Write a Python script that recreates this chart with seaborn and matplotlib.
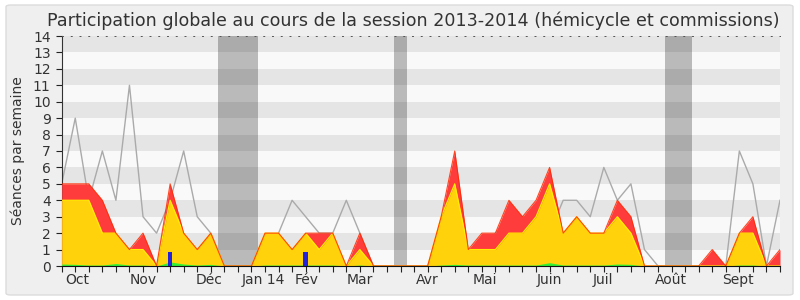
import numpy as np
import pandas as pd
import matplotlib
matplotlib.use("Agg")
import matplotlib.pyplot as plt
from matplotlib.patches import FancyBboxPatch
import seaborn as sns

# ---- data (weekly, session 2013-2014) ----
weeks = list(range(54))
presence_total = [5, 5, 5, 4, 2, 1, 2, 0, 5, 2, 1, 2, 0, 0, 0, 2, 2, 1, 2, 2, 2, 0, 2, 0, 0, 0, 0, 0,
                  3, 7, 1, 2, 2, 4, 3, 4, 6, 2, 3, 2, 2, 4, 3, 0, 0, 0, 0, 0, 1, 0, 2, 3, 0, 1]
hemicycle = [4, 4, 4, 2, 2, 1, 1, 0, 4, 2, 1, 2, 0, 0, 0, 2, 2, 1, 2, 1, 2, 0, 1, 0, 0, 0, 0, 0,
             3, 5, 1, 1, 1, 2, 2, 3, 5, 2, 3, 2, 2, 3, 2, 0, 0, 0, 0, 0, 0, 0, 2, 2, 0, 0]
interventions = [0.12, 0.1, 0.06, 0.06, 0.15, 0.06, 0.06, 0, 0.25, 0.12, 0.06, 0.1, 0, 0, 0,
                 0.06, 0.06, 0.06, 0.06, 0.06, 0.06, 0, 0.06, 0, 0, 0, 0, 0,
                 0.06, 0.1, 0.06, 0.06, 0.06, 0.06, 0.06, 0.06, 0.2, 0.06, 0.06, 0.06, 0.06, 0.12, 0.1,
                 0, 0, 0, 0, 0, 0, 0, 0.06, 0.06, 0, 0]
mediane = [5, 9, 4, 7, 4, 11, 3, 2, 4, 7, 3, 2, 0, 0, 0, 0, 2, 4, 3, 2, 2, 4, 2, 0, 0, 0, 0, 0,
           2, 3, 0, 1, 2, 3, 3, 3, 2, 4, 4, 3, 6, 4, 5, 1, 0, 0, 0, 0, 0, 0, 7, 5, 0, 4]
question_weeks = [8, 18]
question_values = [0.87, 0.87]
vacances = [(11.5, 14.5), (24.5, 25.5), (44.5, 46.5)]
month_labels = ["Oct", "Nov", "Déc", "Jan 14", "Fév", "Mar", "Avr", "Mai", "Juin", "Juil", "Août", "Sept"]
month_pos = [1.15, 6.0, 10.9, 14.86, 18.1, 22.0, 27.0, 31.2, 35.96, 39.95, 44.97, 49.9]
title = "Participation globale au cours de la session 2013-2014 (hémicycle et commissions)"
ylabel = "Séances par semaine"

df = pd.DataFrame({"semaine": weeks, "total": presence_total, "hemi": hemicycle,
                   "interv": interventions, "med": mediane})

plt.rcParams['font.family'] = ['DejaVu Sans']
fig = plt.figure(figsize=(8, 3), dpi=100)
fig.patch.set_facecolor("white")
panel = FancyBboxPatch((6 / 800, 5 / 300), 787 / 800, 290 / 300,
                       boxstyle="round,pad=0,rounding_size=0.006",
                       transform=fig.transFigure, facecolor="#efefef",
                       edgecolor="#dcdcdc", linewidth=1.0, zorder=-10)
fig.patches.append(panel)

ax = fig.add_axes([61.7 / 800, 34 / 300, (780 - 61.7) / 800, 230 / 300])
ax.set_zorder(5)
ax.set_facecolor("#f9f9f9")
for k in range(1, 14, 2):
    ax.axhspan(k, k + 1, color="#e5e5e5", lw=0, zorder=0)
for a, b in vacances:
    ax.axvspan(a, b, color="black", alpha=0.25, lw=0, zorder=1)

sns.lineplot(data=df, x="semaine", y="med", ax=ax, color="#aaaaaa", lw=1.0, zorder=2)
ax.fill_between(df["semaine"], df["total"], color="#ff3c3c", lw=0, zorder=3)
ax.fill_between(df["semaine"], df["hemi"], color="#ffd20c", lw=0, zorder=4)
sns.lineplot(data=df, x="semaine", y="hemi", ax=ax, color="#ffee00", lw=0.9, zorder=4.5)
sns.lineplot(data=df, x="semaine", y="total", ax=ax, color="#ff2a00", lw=0.8, alpha=0.85, zorder=4.6)
ax.fill_between(df["semaine"], df["interv"], color="#33ee33", lw=0, zorder=5)
ax.bar(question_weeks, question_values, width=0.35, color="#2222dd", zorder=6)

ax.set_xlim(0, 53)
ax.set_ylim(0, 14)
ax.set_xlabel("")
ax.set_ylabel(ylabel, fontsize=10, color="#333333", labelpad=6)
ax.set_yticks(range(15))
ax.set_yticklabels([str(v) for v in range(15)], fontsize=10, color="#333333")
ax.xaxis.remove_overlapping_locs = False
ax.set_xticks(weeks)
ax.set_xticklabels([""] * len(weeks))
ax.set_xticks(month_pos, minor=True)
ax.set_xticklabels(month_labels, minor=True, fontsize=10, color="#333333")
ax.tick_params(axis="x", which="major", length=4, width=0.8, color="#222222")
ax.tick_params(axis="x", which="minor", length=0, pad=5)
ax.tick_params(axis="y", length=4, width=0.8, color="#222222", pad=4)
ax.grid(False)
ax.spines["right"].set_visible(False)
ax.spines["top"].set_linestyle((0, (1, 8)))
ax.spines["top"].set_color("#555555")
ax.spines["top"].set_linewidth(0.7)
ax.spines["left"].set_color("#333333")
ax.spines["bottom"].set_color("#111111")
ax.spines["bottom"].set_zorder(7)

fig.text(0.516, 0.93, title, ha="center", va="center", fontsize=12.6, color="#333333")
fig.savefig("out.png", dpi=100, facecolor=fig.get_facecolor())
